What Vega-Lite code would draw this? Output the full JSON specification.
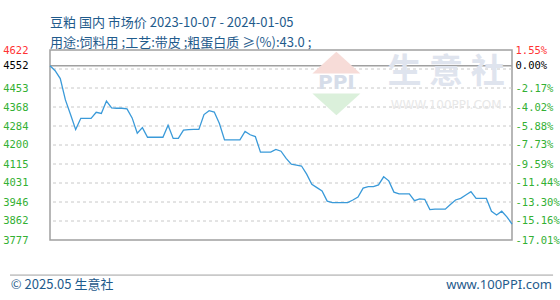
{
  "$schema": "https://vega.github.io/schema/vega-lite/v6.json",
  "width": 462,
  "height": 190,
  "autosize": {"type": "none"},
  "padding": {"left": 50, "top": 50, "right": 48, "bottom": 60},
  "background": "#ffffff",
  "config": {
    "view": {"stroke": "#a0a0a0", "strokeWidth": 1.5},
    "title": {"anchor": "start", "frame": "group", "font": "Noto Sans CJK SC", "fontSize": 13, "fontWeight": "normal", "color": "#1f5b8c", "subtitleFont": "Noto Sans CJK SC", "subtitleFontSize": 13, "subtitleColor": "#1f5b8c", "subtitlePadding": 7, "offset": -5}
  },
  "title": {"text": "豆粕 国内 市场价 2023-10-07 - 2024-01-05", "subtitle": "用途:饲料用 ;工艺:带皮 ;粗蛋白质 ≥(%):43.0 ;"},
  "resolve": {"axis": {"y": "independent"}},
  "datasets": {
    "one": [{}],
    "grid": [{"g": 3861.5}, {"g": 3946}, {"g": 4030.5}, {"g": 4115}, {"g": 4199.5}, {"g": 4284}, {"g": 4368.5}, {"g": 4453}, {"g": 4537.5}],
    "prices": [
      {"date": "2023-10-07", "price": 4552}, {"date": "2023-10-08", "price": 4530}, {"date": "2023-10-09", "price": 4495},
      {"date": "2023-10-10", "price": 4400}, {"date": "2023-10-11", "price": 4335}, {"date": "2023-10-12", "price": 4268},
      {"date": "2023-10-13", "price": 4318}, {"date": "2023-10-14", "price": 4318}, {"date": "2023-10-15", "price": 4318},
      {"date": "2023-10-16", "price": 4345}, {"date": "2023-10-17", "price": 4340}, {"date": "2023-10-18", "price": 4395},
      {"date": "2023-10-19", "price": 4365}, {"date": "2023-10-20", "price": 4363}, {"date": "2023-10-21", "price": 4363},
      {"date": "2023-10-22", "price": 4360}, {"date": "2023-10-23", "price": 4320}, {"date": "2023-10-24", "price": 4252},
      {"date": "2023-10-25", "price": 4277}, {"date": "2023-10-26", "price": 4234}, {"date": "2023-10-27", "price": 4234},
      {"date": "2023-10-28", "price": 4234}, {"date": "2023-10-29", "price": 4234}, {"date": "2023-10-30", "price": 4287},
      {"date": "2023-10-31", "price": 4229}, {"date": "2023-11-01", "price": 4229}, {"date": "2023-11-02", "price": 4266},
      {"date": "2023-11-03", "price": 4268}, {"date": "2023-11-04", "price": 4269}, {"date": "2023-11-05", "price": 4269},
      {"date": "2023-11-06", "price": 4335}, {"date": "2023-11-07", "price": 4352}, {"date": "2023-11-08", "price": 4346},
      {"date": "2023-11-09", "price": 4295}, {"date": "2023-11-10", "price": 4222}, {"date": "2023-11-11", "price": 4222},
      {"date": "2023-11-12", "price": 4222}, {"date": "2023-11-13", "price": 4222}, {"date": "2023-11-14", "price": 4260},
      {"date": "2023-11-15", "price": 4245}, {"date": "2023-11-16", "price": 4237}, {"date": "2023-11-17", "price": 4168},
      {"date": "2023-11-18", "price": 4168}, {"date": "2023-11-19", "price": 4168}, {"date": "2023-11-20", "price": 4180},
      {"date": "2023-11-21", "price": 4172}, {"date": "2023-11-22", "price": 4140}, {"date": "2023-11-23", "price": 4114},
      {"date": "2023-11-24", "price": 4110}, {"date": "2023-11-25", "price": 4106}, {"date": "2023-11-26", "price": 4070},
      {"date": "2023-11-27", "price": 4025}, {"date": "2023-11-28", "price": 4010}, {"date": "2023-11-29", "price": 3995},
      {"date": "2023-11-30", "price": 3950}, {"date": "2023-12-01", "price": 3943}, {"date": "2023-12-02", "price": 3943},
      {"date": "2023-12-03", "price": 3943}, {"date": "2023-12-04", "price": 3943}, {"date": "2023-12-05", "price": 3955},
      {"date": "2023-12-06", "price": 3968}, {"date": "2023-12-07", "price": 4008}, {"date": "2023-12-08", "price": 4014},
      {"date": "2023-12-09", "price": 4014}, {"date": "2023-12-10", "price": 4022}, {"date": "2023-12-11", "price": 4058},
      {"date": "2023-12-12", "price": 4040}, {"date": "2023-12-13", "price": 3990}, {"date": "2023-12-14", "price": 3982},
      {"date": "2023-12-15", "price": 3982}, {"date": "2023-12-16", "price": 3982}, {"date": "2023-12-17", "price": 3952},
      {"date": "2023-12-18", "price": 3960}, {"date": "2023-12-19", "price": 3958}, {"date": "2023-12-20", "price": 3912},
      {"date": "2023-12-21", "price": 3914}, {"date": "2023-12-22", "price": 3914}, {"date": "2023-12-23", "price": 3914},
      {"date": "2023-12-24", "price": 3935}, {"date": "2023-12-25", "price": 3955}, {"date": "2023-12-26", "price": 3962},
      {"date": "2023-12-27", "price": 3977}, {"date": "2023-12-28", "price": 3992}, {"date": "2023-12-29", "price": 3962},
      {"date": "2023-12-30", "price": 3962}, {"date": "2023-12-31", "price": 3962}, {"date": "2024-01-01", "price": 3905},
      {"date": "2024-01-02", "price": 3888}, {"date": "2024-01-03", "price": 3905}, {"date": "2024-01-04", "price": 3880},
      {"date": "2024-01-05", "price": 3848}
    ]
  },
  "layer": [
    {
      "data": {"name": "grid"},
      "mark": {"type": "rule", "color": "#c8c8c8", "strokeDash": [3, 3], "strokeWidth": 1},
      "encoding": {
        "y": {"field": "g", "type": "quantitative",
          "scale": {"domain": [3777, 4622], "nice": false, "zero": false},
          "axis": {"orient": "left", "title": null, "grid": false, "ticks": false, "tickSize": 0, "domain": false,
            "values": [4622, 4552, 4453, 4368, 4284, 4200, 4115, 4031, 3946, 3862, 3777],
            "format": "d", "labelAlign": "right", "labelPadding": 22, "labelOverlap": false, "labelFlush": false,
            "labelFont": "DejaVu Sans Mono", "labelFontSize": 10.5,
            "labelColor": {"condition": [{"test": "datum.value === 4622", "value": "#ff3333"}, {"test": "datum.value === 4552", "value": "#000000"}], "value": "#33b033"}}}
      }
    },
    {
      "data": {"name": "one"},
      "mark": {"type": "rule", "color": "#a0a0a0", "strokeWidth": 1.5},
      "encoding": {
        "y": {"datum": 4552, "type": "quantitative",
          "scale": {"domain": [3777, 4622], "nice": false, "zero": false},
          "axis": {"orient": "right", "title": null, "grid": false, "ticks": false, "tickSize": 0, "domain": false,
            "values": [4622, 4552, 4453, 4368, 4284, 4200, 4115, 4031, 3946, 3862, 3777],
            "labelExpr": "['1.55%','0.00%','-2.17%','-4.02%','-5.88%','-7.73%','-9.59%','-11.44%','-13.30%','-15.16%','-17.01%'][indexof([4622,4552,4453,4368,4284,4200,4115,4031,3946,3862,3777], datum.value)]",
            "labelAlign": "left", "labelPadding": 3, "labelOverlap": false, "labelFlush": false,
            "labelFont": "DejaVu Sans Mono", "labelFontSize": 10.5,
            "labelColor": {"condition": [{"test": "datum.value === 4622", "value": "#ff3333"}, {"test": "datum.value === 4552", "value": "#000000"}], "value": "#33b033"}}}
      }
    },
    {
      "data": {"name": "one"},
      "mark": {"type": "point", "shape": "M-1,0.45L1,0.45L0,-0.45Z", "filled": true, "color": "#f7dcd8", "opacity": 1, "size": 2304},
      "encoding": {
        "x": {"datum": 1701457200000, "type": "temporal", "scale": {"domain": [1696636800000, 1704412800000]}, "axis": null},
        "y": {"datum": 4566, "type": "quantitative", "scale": {"domain": [3777, 4622], "nice": false, "zero": false}, "axis": null}
      }
    },
    {
      "data": {"name": "one"},
      "mark": {"type": "point", "shape": "M-1,-0.45L1,-0.45L0,0.45Z", "filled": true, "color": "#dbf0db", "opacity": 1, "size": 2304},
      "encoding": {
        "x": {"datum": 1701457200000, "type": "temporal", "scale": {"domain": [1696636800000, 1704412800000]}, "axis": null},
        "y": {"datum": 4380, "type": "quantitative", "scale": {"domain": [3777, 4622], "nice": false, "zero": false}, "axis": null}
      }
    },
    {
      "data": {"name": "one"},
      "mark": {"type": "text", "text": "PPI", "font": "DejaVu Sans", "fontWeight": "bold", "fontSize": 20, "color": "#d6dde9", "align": "center", "baseline": "middle"},
      "encoding": {
        "x": {"datum": 1701457200000, "type": "temporal", "scale": {"domain": [1696636800000, 1704412800000]}, "axis": null},
        "y": {"datum": 4477, "type": "quantitative", "scale": {"domain": [3777, 4622], "nice": false, "zero": false}, "axis": null}
      }
    },
    {
      "data": {"name": "one"},
      "mark": {"type": "text", "text": "生 意 社", "font": "Noto Sans CJK SC", "fontWeight": "bold", "fontSize": 34, "color": "#dfe4ee", "align": "center", "baseline": "middle"},
      "encoding": {
        "x": {"datum": 1703304000000, "type": "temporal", "scale": {"domain": [1696636800000, 1704412800000]}, "axis": null},
        "y": {"datum": 4518, "type": "quantitative", "scale": {"domain": [3777, 4622], "nice": false, "zero": false}, "axis": null}
      }
    },
    {
      "data": {"name": "one"},
      "mark": {"type": "text", "text": "WWW.100PPI.COM", "font": "DejaVu Sans", "fontSize": 12, "color": "#e8e8e8", "align": "center", "baseline": "middle"},
      "encoding": {
        "x": {"datum": 1703304000000, "type": "temporal", "scale": {"domain": [1696636800000, 1704412800000]}, "axis": null},
        "y": {"datum": 4377, "type": "quantitative", "scale": {"domain": [3777, 4622], "nice": false, "zero": false}, "axis": null}
      }
    },
    {
      "data": {"name": "prices"},
      "mark": {"type": "line", "color": "#3a9ad9", "strokeWidth": 1.3},
      "encoding": {
        "x": {"field": "date", "type": "temporal",
          "scale": {"domain": [1696636800000, 1704412800000]},
          "axis": {"title": null, "labelExpr": "utcFormat(datum.value, '%m/%d')", "grid": true, "gridColor": "#c8c8c8", "gridDash": [3, 3], "ticks": false, "tickSize": 0, "domain": false,
            "values": [1696636800000, 1697414400000, 1698192000000, 1698969600000, 1699747200000, 1700524800000, 1701302400000, 1702080000000, 1702857600000, 1703635200000, 1704412800000],
            "labelFont": "DejaVu Sans Mono", "labelFontSize": 10.5, "labelColor": "#1a5486", "labelPadding": 11, "labelFlush": false, "labelOverlap": false}},
        "y": {"field": "price", "type": "quantitative", "scale": {"domain": [3777, 4622], "nice": false, "zero": false}, "axis": null}
      }
    },
    {
      "data": {"name": "one"},
      "mark": {"type": "rule", "color": "#a0a0a0", "strokeWidth": 1},
      "encoding": {
        "x": {"datum": 1695963600000, "type": "temporal", "scale": {"domain": [1696636800000, 1704412800000]}, "axis": null},
        "x2": {"datum": 1705104000000},
        "y": {"datum": 3621, "type": "quantitative", "scale": {"domain": [3777, 4622], "nice": false, "zero": false}, "axis": null}
      }
    },
    {
      "data": {"name": "one"},
      "mark": {"type": "text", "text": "© 2025.05 生意社", "font": "Noto Sans CJK SC", "fontSize": 13, "color": "#1f5b8c", "align": "left", "baseline": "middle"},
      "encoding": {
        "x": {"datum": 1695978000000, "type": "temporal", "scale": {"domain": [1696636800000, 1704412800000]}, "axis": null},
        "y": {"datum": 3577, "type": "quantitative", "scale": {"domain": [3777, 4622], "nice": false, "zero": false}, "axis": null}
      }
    },
    {
      "data": {"name": "one"},
      "mark": {"type": "text", "text": "www.100PPI.com", "font": "Noto Sans", "fontSize": 13, "color": "#1f5b8c", "align": "right", "baseline": "middle"},
      "encoding": {
        "x": {"datum": 1705086000000, "type": "temporal", "scale": {"domain": [1696636800000, 1704412800000]}, "axis": null},
        "y": {"datum": 3577, "type": "quantitative", "scale": {"domain": [3777, 4622], "nice": false, "zero": false}, "axis": null}
      }
    }
  ]
}
